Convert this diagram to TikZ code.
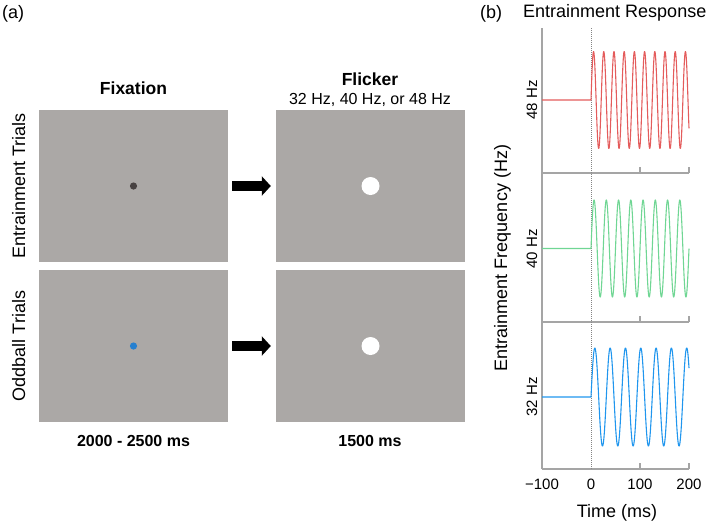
\documentclass[tikz,border=0pt]{standalone}
\usepackage{fontspec}
\setmainfont{Liberation Sans}
\usetikzlibrary{arrows.meta}
\definecolor{boxgray}{RGB}{171,168,166}
\definecolor{dotdark}{RGB}{72,66,66}
\definecolor{dotblue}{RGB}{38,128,208}
\definecolor{axisgray}{RGB}{165,165,165}
\definecolor{wred}{RGB}{228,92,92}
\definecolor{wgreen}{RGB}{112,214,148}
\definecolor{wblue}{RGB}{32,150,238}
\tikzset{
  panel/.style={fill=boxgray, draw=none, minimum width=189pt, minimum height=152pt, inner sep=0pt},
  bigarrow/.style={line width=10pt, -{Triangle[length=9pt,width=19pt]}},
  lbl/.style={inner sep=0pt, font=\fontsize{18}{20}\selectfont},
  blbl/.style={inner sep=0pt, font=\fontsize{17.5}{20}\selectfont\bfseries},
  sublbl/.style={inner sep=0pt, font=\fontsize{16}{18}\selectfont},
  timelbl/.style={inner sep=0pt, font=\fontsize{16}{18}\selectfont\bfseries},
  ticklbl/.style={inner sep=0pt, font=\fontsize{15}{17}\selectfont},
  axisline/.style={draw=axisgray, line width=1.1pt},
  zeroline/.style={draw=axisgray!80!black, line width=0.8pt, dash pattern=on 1pt off 1pt},
  wave/.style={line width=1.1pt, line join=round}
}
\begin{document}
\begin{tikzpicture}[x=1pt, y=-1pt]
\useasboundingbox (0,0) rectangle (709,523);
% panel (a)
\node[lbl, anchor=base west] (la) at (2,18) {(a)};
\node[panel] (fixE) at (133.5,186) {};
\node[panel] (flE) at (370.5,186) {};
\node[panel] (fixO) at (133.5,346) {};
\node[panel] (flO) at (370.5,346) {};
\fill[dotdark] (fixE.center) circle (3.6pt);
\fill[dotblue] (fixO.center) circle (3.6pt);
\fill[white] (flE.center) circle (9pt);
\fill[white] (flO.center) circle (9pt);
\draw[bigarrow] ([xshift=4pt]fixE.east) -- ([xshift=-5pt]flE.west);
\draw[bigarrow] ([xshift=4pt]fixO.east) -- ([xshift=-5pt]flO.west);
\node[blbl, anchor=base] (tfix) at (133.5,94) {Fixation};
\node[blbl, anchor=base] (tfl) at (370,85) {Flicker};
\node[sublbl, anchor=base] (tfreq) at (370,104) {32 Hz, 40 Hz, or 48 Hz};
\node[lbl, rotate=90, anchor=base] (tent) at (25,186) {Entrainment Trials};
\node[lbl, rotate=90, anchor=base] (todd) at (25,346) {Oddball Trials};
\node[timelbl, anchor=base] (t1) at (133.5,446) {2000 - 2500 ms};
\node[timelbl, anchor=base] (t2) at (370,446) {1500 ms};
% panel (b)
\node[lbl, anchor=base west] (lb) at (480,18) {(b)};
\node[lbl, anchor=base west] (tresp) at (523,17) {Entrainment Response};
\coordinate (top) at (542,28);
\coordinate (b1) at (542,173);
\coordinate (b2) at (542,322);
\coordinate (b3) at (542,469);
\draw[axisline] (top) -- (b3);
\foreach \yy in {173,322,469}{
  \draw[axisline] (542,\yy) -- (689,\yy);
  \draw[axisline] (640,\yy) -- (640,\yy-6);
  \draw[axisline] (689,\yy) -- (689,\yy-6);
}
\draw[zeroline] (591,28) -- (591,469);
\draw[wave, wred] (542,100) -- (591,100) -- plot[domain=0:200, samples=481] ({591+0.49*\x}, {100-48.5*sin(17.28*\x)});
\draw[wave, wgreen] (542,248.5) -- (591,248.5) -- plot[domain=0:200, samples=481] ({591+0.49*\x}, {248.5-48.5*sin(14.4*\x)});
\draw[wave, wblue] (542,397) -- (591,397) -- plot[domain=0:200, samples=481] ({591+0.49*\x}, {397-49*sin(11.52*\x)});
\node[ticklbl, rotate=90, anchor=base] (h48) at (537,100) {48 Hz};
\node[ticklbl, rotate=90, anchor=base] (h40) at (537,249) {40 Hz};
\node[ticklbl, rotate=90, anchor=base] (h32) at (537,397) {32 Hz};
\node[lbl, rotate=90, anchor=base] (yl) at (507,258) {Entrainment Frequency (Hz)};
\node[ticklbl, anchor=base] (x1) at (542,489) {−100};
\node[ticklbl, anchor=base] (x2) at (591,489) {0};
\node[ticklbl, anchor=base] (x3) at (640,489) {100};
\node[ticklbl, anchor=base] (x4) at (689,489) {200};
\node[lbl, anchor=base] (xl) at (617,517) {Time (ms)};
\end{tikzpicture}
\end{document}
